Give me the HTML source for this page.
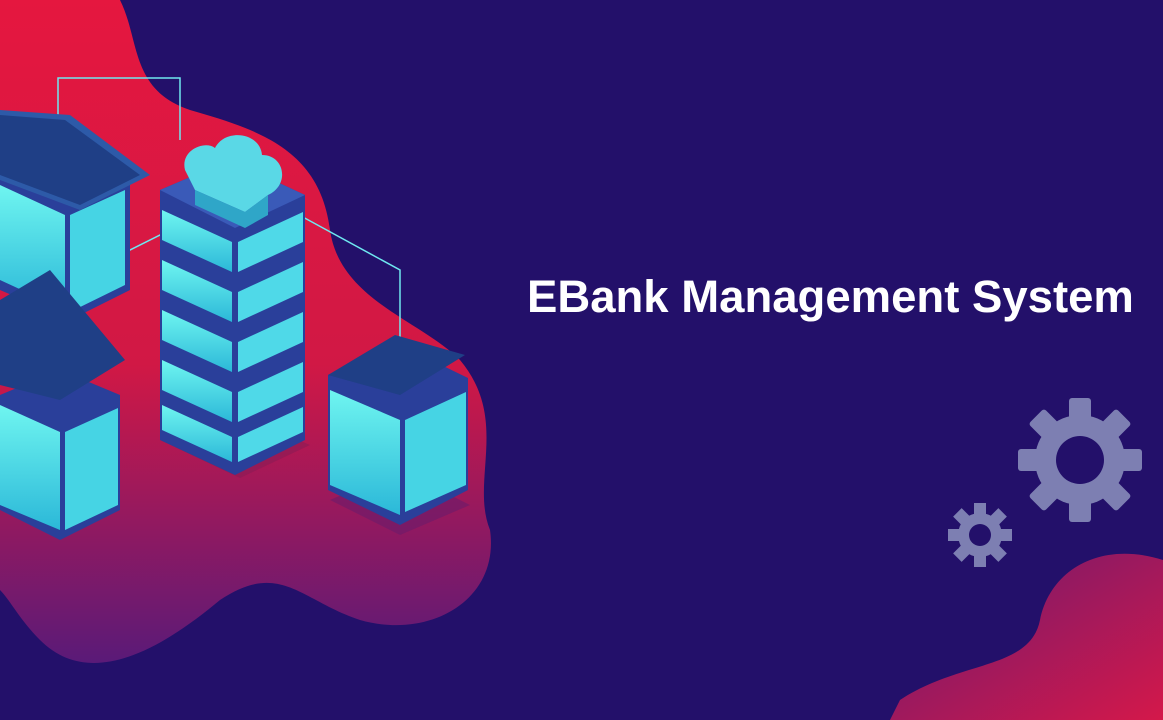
<!DOCTYPE html>
<html><head><meta charset="utf-8"><style>
html,body{margin:0;padding:0;width:1163px;height:720px;overflow:hidden;background:#23106a}
svg{position:absolute;left:0;top:0}
.t{position:absolute;left:527px;top:271px;font:bold 45.5px "Liberation Sans",sans-serif;color:#fff;white-space:nowrap}
</style></head><body>
<svg width="1163" height="720" viewBox="0 0 1163 720">
<defs>
<linearGradient id="rg" x1="0" y1="0" x2="0" y2="1">
<stop offset="0" stop-color="#e5173f"/><stop offset="0.55" stop-color="#d11845"/><stop offset="1" stop-color="#5a1a78"/>
</linearGradient>
<linearGradient id="rg2" x1="0" y1="0" x2="1" y2="1">
<stop offset="0" stop-color="#6a1a70"/><stop offset="1" stop-color="#d4184a"/>
</linearGradient>
<linearGradient id="cy" x1="0" y1="0" x2="0" y2="1">
<stop offset="0" stop-color="#6ff5f0"/><stop offset="1" stop-color="#2bb8d8"/>
</linearGradient>
</defs>
<rect width="1163" height="720" fill="#23106a"/>
<path d="M0,0 L120,0 C140,40 130,90 190,110 C260,130 320,150 330,230 C340,300 420,320 460,360 C510,420 470,480 490,530 C500,600 430,640 360,620 C300,600 280,560 220,600 C160,650 90,690 40,640 C20,620 10,600 0,590 Z" fill="url(#rg)"/>
<path d="M1163,560 C1100,540 1050,570 1040,620 C1030,670 960,660 900,700 L890,720 L1163,720 Z" fill="url(#rg2)"/>
<polygon points="160,440 230,410 310,445 240,478" fill="#8a1a55" opacity="0.6"/>
<polygon points="330,500 400,470 470,505 400,535" fill="#6a1a6a" opacity="0.6"/>
<g stroke="#6fe8f0" stroke-width="1.5" fill="none">
<polyline points="58,150 58,78 180,78 180,140"/>
<polyline points="290,210 400,270 400,360"/>
<polyline points="50,350 50,290 120,255 210,210"/>
</g>
<g>
<polygon points="0,170 60,140 130,175 130,290 70,320 0,290" fill="#2a3f9a"/>
<polygon points="0,185 65,215 65,310 0,280" fill="url(#cy)"/>
<polygon points="70,215 125,190 125,285 70,312" fill="#46d4e4"/>
<polygon points="0,110 70,115 150,175 80,210 0,180" fill="#2d5aa8"/>
<polygon points="0,115 65,120 140,175 80,205 0,175" fill="#1f3f86"/>
</g>
<g>
<polygon points="0,395 60,370 120,395 120,510 60,540 0,510" fill="#2a3f9a"/>
<polygon points="0,405 60,432 60,530 0,505" fill="url(#cy)"/>
<polygon points="65,432 118,408 118,505 65,530" fill="#46d4e4"/>
<polygon points="0,300 50,270 125,360 60,400 0,385" fill="#1f3f86"/>
</g>
<g>
<polygon points="160,190 230,160 305,195 305,440 235,475 160,440" fill="#2a3f9a"/>
<g fill="url(#cy)">
<polygon points="162,210 232,242 232,272 162,240"/>
<polygon points="162,260 232,292 232,322 162,290"/>
<polygon points="162,310 232,342 232,372 162,340"/>
<polygon points="162,360 232,392 232,422 162,390"/>
<polygon points="162,405 232,437 232,462 162,430"/>
</g>
<g fill="#4fd9e8">
<polygon points="238,242 303,212 303,242 238,272"/>
<polygon points="238,292 303,262 303,292 238,322"/>
<polygon points="238,342 303,312 303,342 238,372"/>
<polygon points="238,392 303,362 303,392 238,422"/>
<polygon points="238,437 303,407 303,432 238,462"/>
</g>
<polygon points="160,190 230,160 305,195 235,228" fill="#3a5ab8"/>
<path d="M185,170 C180,150 205,140 215,148 C225,128 260,132 262,155 C285,155 290,185 268,195 L245,212 L195,190 Z" fill="#5ad8e6"/>
<path d="M195,190 L245,212 L268,195 L268,215 L245,228 L195,205 Z" fill="#2fa6c8"/>
</g>
<g>
<polygon points="328,375 400,345 468,378 468,490 400,525 328,490" fill="#2a3f9a"/>
<polygon points="330,390 400,420 400,515 330,485" fill="url(#cy)"/>
<polygon points="405,420 466,392 466,485 405,512" fill="#46d4e4"/>
<polygon points="328,375 395,335 465,355 400,395" fill="#1f3f86"/>
</g>
<g fill="#7d7fb2">
<circle cx="1080" cy="460" r="45"/>
<g transform="translate(1080,460)">
<rect x="-11" y="-62" width="22" height="124" rx="3"/>
<rect x="-11" y="-62" width="22" height="124" rx="3" transform="rotate(45)"/>
<rect x="-11" y="-62" width="22" height="124" rx="3" transform="rotate(90)"/>
<rect x="-11" y="-62" width="22" height="124" rx="3" transform="rotate(135)"/>
</g>
<circle cx="980" cy="535" r="22"/>
<g transform="translate(980,535)">
<rect x="-6" y="-32" width="12" height="64"/>
<rect x="-6" y="-32" width="12" height="64" transform="rotate(45)"/>
<rect x="-6" y="-32" width="12" height="64" transform="rotate(90)"/>
<rect x="-6" y="-32" width="12" height="64" transform="rotate(135)"/>
</g>
</g>
<circle cx="1080" cy="460" r="24" fill="#23106a"/>
<circle cx="980" cy="535" r="11" fill="#23106a"/>
</svg>
<div class="t">EBank Management System</div>
</body></html>
